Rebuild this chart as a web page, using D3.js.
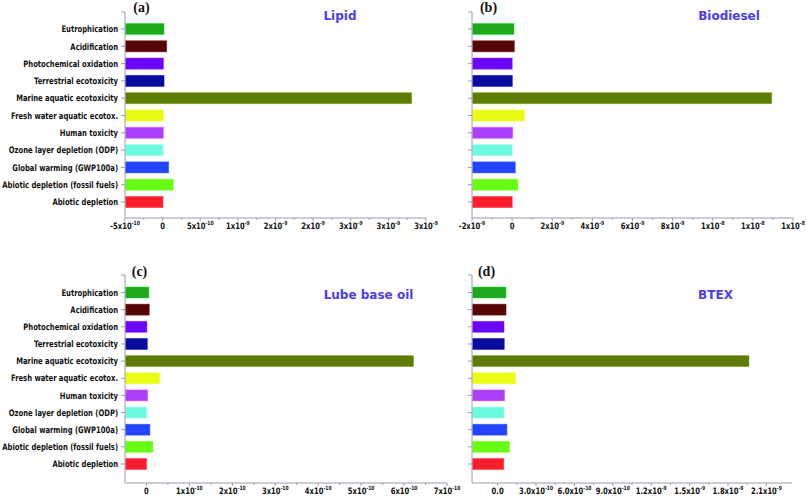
<!DOCTYPE html>
<html>
<head>
<meta charset="utf-8">
<script src="https://cdn.jsdelivr.net/npm/d3@7"></script>
<style>
  html, body { margin: 0; padding: 0; background: #fff; }
  svg { display: block; }
</style>
</head>
<body>
<svg id="chart" width="807" height="500"></svg>
<script>
// ---------------- DATA ----------------
const categories = [
  "Eutrophication",
  "Acidification",
  "Photochemical oxidation",
  "Terrestrial ecotoxicity",
  "Marine aquatic ecotoxicity",
  "Fresh water aquatic ecotox.",
  "Human toxicity",
  "Ozone layer depletion (ODP)",
  "Global warming (GWP100a)",
  "Abiotic depletion (fossil fuels)",
  "Abiotic depletion"
];
const barColors = [
  "#1caa1c", "#560606", "#6a06fc", "#0a0a9c", "#5c7c04", "#e8fc14",
  "#aa40fc", "#6cfcdc", "#2244fc", "#66fc14", "#fc1c2c"
];

const lipidValues     = [1.9e-11, 5.4e-11, 1.0e-11, 1.9e-11, 3.31e-9, 1.0e-11, 1.0e-11, 5e-12, 8.1e-11, 1.42e-10, 5e-12];
const biodieselValues = [9.5e-11, 1.1e-10, 5e-12, 1.0e-11, 1.294e-8, 6.1e-10, 3.0e-11, 5e-12, 1.6e-10, 2.9e-10, 5e-12];
const lubeValues      = [5.8e-12, 6.5e-12, 1.0e-12, 2.0e-12, 6.22e-10, 3.07e-11, 2.8e-12, 0.5e-12, 8.0e-12, 1.5e-11, 0.2e-12];
const btexValues      = [6.6e-11, 6.6e-11, 5.0e-11, 5.2e-11, 1.964e-9, 1.41e-10, 5.5e-11, 5.0e-11, 7.3e-11, 9.4e-11, 4.8e-11];

const lipidDomain = [-5e-10, 3.5e-9];
const lipidTicks = [-5e-10, 0, 5e-10, 1e-9, 1.5e-9, 2e-9, 2.5e-9, 3e-9, 3.5e-9];
const lipidTickLabels = ["-5x10^-10", "0", "5x10^-10", "1x10^-9", "2x10^-9", "2x10^-9", "3x10^-9", "3x10^-9", "3x10^-9"];

const biodieselDomain = [-2e-9, 1.4e-8];
const biodieselTicks = [-2e-9, 0, 2e-9, 4e-9, 6e-9, 8e-9, 1e-8, 1.2e-8, 1.4e-8];
const biodieselTickLabels = ["-2x10^-9", "0", "2x10^-9", "4x10^-9", "6x10^-9", "8x10^-9", "1x10^-8", "1x10^-8", "1x10^-8"];

const lubeDomain = [-5e-11, 7e-10];
const lubeTicks = [0, 1e-10, 2e-10, 3e-10, 4e-10, 5e-10, 6e-10, 7e-10];
const lubeTickLabels = ["0", "1x10^-10", "2x10^-10", "3x10^-10", "4x10^-10", "5x10^-10", "6x10^-10", "7x10^-10"];

const btexDomain = [-2e-10, 2.3e-9];
const btexTicks = [0, 3e-10, 6e-10, 9e-10, 1.2e-9, 1.5e-9, 1.8e-9, 2.1e-9];
const btexTickLabels = ["0.0", "3.0x10^-10", "6.0x10^-10", "9.0x10^-10", "1.2x10^-9", "1.5x10^-9", "1.8x10^-9", "2.1x10^-9"];

const panelTitles = ["Lipid", "Biodiesel", "Lube base oil", "BTEX"];
const panelLetters = ["(a)", "(b)", "(c)", "(d)"];

// ---------------- LAYOUT ----------------
const panels = [
  { values: lipidValues, domain: lipidDomain, ticks: lipidTicks, tickLabels: lipidTickLabels,
    x0: 125, x1: 426, top: 12, bottom: 218, c0: 29, c1: 202, showCats: true,
    title: panelTitles[0], titleX: 340, titleY: 19.5, letter: panelLetters[0], letterX: 141.5, letterY: 11.5 },
  { values: biodieselValues, domain: biodieselDomain, ticks: biodieselTicks, tickLabels: biodieselTickLabels,
    x0: 472, x1: 793, top: 12, bottom: 218, c0: 29, c1: 202, showCats: false,
    title: panelTitles[1], titleX: 729, titleY: 19.5, letter: panelLetters[1], letterX: 488.5, letterY: 11.5 },
  { values: lubeValues, domain: lubeDomain, ticks: lubeTicks, tickLabels: lubeTickLabels,
    x0: 125, x1: 447, top: 275, bottom: 483, c0: 292.5, c1: 464, showCats: true,
    title: panelTitles[2], titleX: 368.5, titleY: 298.5, letter: panelLetters[2], letterX: 139.5, letterY: 275.5 },
  { values: btexValues, domain: btexDomain, ticks: btexTicks, tickLabels: btexTickLabels,
    x0: 472, x1: 792, top: 275, bottom: 483, c0: 292.5, c1: 464, showCats: false,
    title: panelTitles[3], titleX: 715.5, titleY: 298.5, letter: panelLetters[3], letterX: 486.5, letterY: 275.5 }
];

const svg = d3.select("#chart");
const axisColor = "#9a9ab4";
const labelFont = "'DejaVu Sans', Verdana, sans-serif";

// measure compression factor so longest category fits reference width (~116px)
const meas = svg.append("text").attr("font-family", labelFont).attr("font-weight", "bold")
  .attr("font-size", 9).text(d3.greatest(categories, d => d.length));
const sx = 116 / meas.node().getComputedTextLength();
meas.remove();

panels.forEach(p => {
  const g = svg.append("g");
  const x = d3.scaleLinear().domain(p.domain).range([p.x0, p.x1]);
  const step = (p.c1 - p.c0) / (categories.length - 1);
  const y = d3.scaleBand().domain(categories)
    .range([p.c0 - step / 2, p.c1 + step / 2])
    .paddingInner(0.36).paddingOuter(0.18);

  // bars (drawn from axis start as in the original)
  g.selectAll("rect.bar").data(categories).join("rect")
    .attr("class", "bar")
    .attr("x", p.x0 + 0.5)
    .attr("y", d => y(d))
    .attr("width", (d, i) => Math.max(0, x(p.values[i]) - p.x0 - 0.5))
    .attr("height", y.bandwidth())
    .attr("fill", (d, i) => barColors[i])
    .attr("stroke", (d, i) => d3.color(barColors[i]).brighter(0.9))
    .attr("stroke-opacity", 0.6)
    .attr("stroke-width", 0.8);

  // y axis line and ticks
  g.append("line").attr("x1", p.x0).attr("x2", p.x0).attr("y1", p.top).attr("y2", p.bottom)
    .attr("stroke", axisColor).attr("stroke-width", 1);
  const yTickPos = [p.top].concat(categories.map(c => y(c) + y.bandwidth() / 2));
  g.selectAll("line.ytick").data(yTickPos).join("line").attr("class", "ytick")
    .attr("x1", p.x0 - 4).attr("x2", p.x0).attr("y1", d => d).attr("y2", d => d)
    .attr("stroke", axisColor).attr("stroke-width", 1);

  // x axis line and ticks
  g.append("line").attr("x1", p.x0).attr("x2", p.x1).attr("y1", p.bottom).attr("y2", p.bottom)
    .attr("stroke", axisColor).attr("stroke-width", 1);
  g.selectAll("line.xtick").data(p.ticks).join("line").attr("class", "xtick")
    .attr("x1", d => x(d)).attr("x2", d => x(d)).attr("y1", p.bottom).attr("y2", p.bottom + 3)
    .attr("stroke", axisColor).attr("stroke-width", 1);
  const minors = d3.pairs(p.ticks).map(([a, b]) => (a + b) / 2);
  g.selectAll("line.mtick").data(minors).join("line").attr("class", "mtick")
    .attr("x1", d => x(d)).attr("x2", d => x(d)).attr("y1", p.bottom).attr("y2", p.bottom + 2)
    .attr("stroke", axisColor).attr("stroke-width", 1);

  // tick labels
  p.ticks.forEach((t, i) => {
    const parts = p.tickLabels[i].split("^");
    const tx = g.append("text")
      .attr("transform", `translate(${x(t)},${p.bottom + 10.5}) scale(${sx * 1.02},1)`)
      .attr("text-anchor", "middle")
      .attr("font-family", labelFont).attr("font-weight", "bold")
      .attr("font-size", 8.8).attr("fill", "#111");
    tx.append("tspan").text(parts[0]);
    if (parts[1]) {
      tx.append("tspan").attr("dy", -3.5).attr("font-size", 5.8).text(parts[1]);
    }
  });

  // category labels
  if (p.showCats) {
    categories.forEach(c => {
      g.append("text")
        .attr("transform", `translate(${p.x0 - 7},${y(c) + y.bandwidth() / 2 + 3.2}) scale(${sx},1)`)
        .attr("text-anchor", "end")
        .attr("font-family", labelFont).attr("font-weight", "bold")
        .attr("font-size", 9).attr("fill", "#111")
        .text(c);
    });
  }

  // title
  g.append("text").attr("x", p.titleX).attr("y", p.titleY)
    .attr("text-anchor", "middle")
    .attr("font-family", labelFont).attr("font-weight", "bold")
    .attr("font-size", 12).attr("fill", "#4b3cf0")
    .text(p.title);

  // panel letter
  g.append("text").attr("x", p.letterX).attr("y", p.letterY)
    .attr("text-anchor", "middle")
    .attr("font-family", "'Liberation Serif', 'Times New Roman', serif").attr("font-weight", "bold")
    .attr("font-size", 14).attr("fill", "#111")
    .text(p.letter);
});
</script>
</body>
</html>
